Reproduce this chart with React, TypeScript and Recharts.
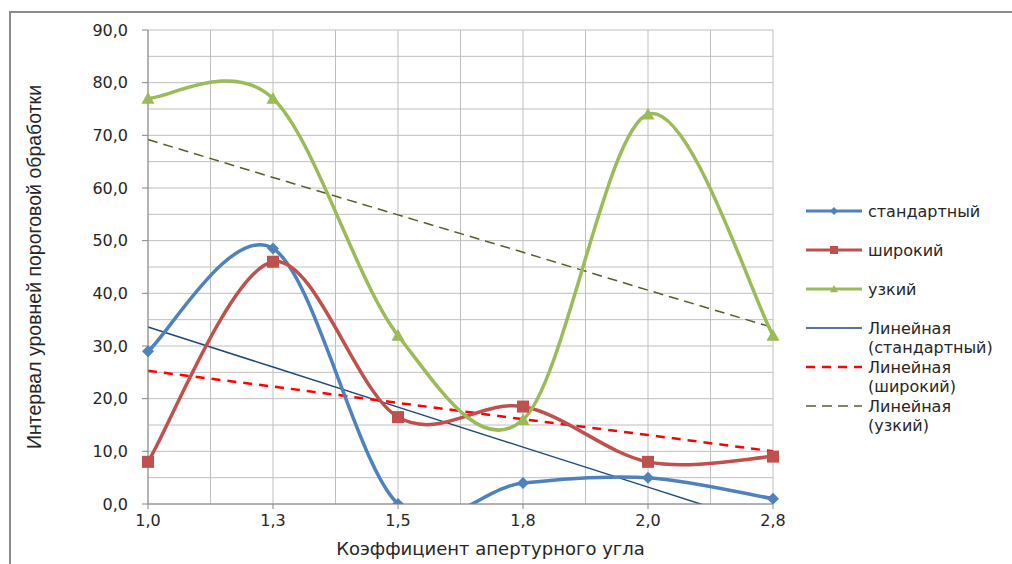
import { LineChart, Line, XAxis, YAxis, CartesianGrid, Legend } from 'recharts';

const categories = ['1,0', '1,3', '1,5', '1,8', '2,0', '2,8'];
const standard = [29, 48.5, 0, 4, 5, 1];
const wide = [8, 46, 16.5, 18.5, 8, 9];
const narrow = [77, 77, 32, 16, 74, 32];
// trendlines (straight lines, so one value per category)
const trendStandard = [33.6, 26.0, 18.4, 10.8, 3.2, -4.4];
const trendWide = [25.3, 22.3, 19.2, 16.1, 13.1, 10.0];
const trendNarrow = [69.2, 62.0, 54.9, 47.8, 40.6, 33.5];
const yTicks = [0, 10, 20, 30, 40, 50, 60, 70, 80, 90];
const yGrid = [0, 5, 10, 15, 20, 25, 30, 35, 40, 45, 50, 55, 60, 65, 70, 75, 80, 85, 90];
const xTicks = [0, 1, 2, 3, 4, 5];
const xGrid = [0, 0.5, 1, 1.5, 2, 2.5, 3, 3.5, 4, 4.5, 5];

const data = categories.map((label, i) => ({
  x: i,
  label,
  standard: standard[i],
  wide: wide[i],
  narrow: narrow[i],
  trendStandard: trendStandard[i],
  trendWide: trendWide[i],
  trendNarrow: trendNarrow[i],
}));

const BLUE = '#4F81BD';
const RED = '#C0504D';
const GREEN = '#9BBB59';
const TEXT = '#262626';
const FONT = '"DejaVu Sans", "Open Sans", sans-serif';

// Excel-like smoothed line: cubic bezier with catmull-rom tangents
const excelSmooth = (context: any) => {
  let pts: number[][] = [];
  return {
    areaStart() {},
    areaEnd() {},
    lineStart() {
      pts = [];
    },
    point(x: number, y: number) {
      pts.push([+x, +y]);
    },
    lineEnd() {
      const n = pts.length;
      if (!n) return;
      context.moveTo(pts[0][0], pts[0][1]);
      for (let i = 0; i < n - 1; i++) {
        const p0 = pts[Math.max(i - 1, 0)];
        const p1 = pts[i];
        const p2 = pts[i + 1];
        const p3 = pts[Math.min(i + 2, n - 1)];
        context.bezierCurveTo(
          p1[0] + (p2[0] - p0[0]) / 6,
          p1[1] + (p2[1] - p0[1]) / 6,
          p2[0] - (p3[0] - p1[0]) / 6,
          p2[1] - (p3[1] - p1[1]) / 6,
          p2[0],
          p2[1]
        );
      }
    },
  };
};

function Marker({ kind, cx, cy, size, color }: { kind: string; cx: number; cy: number; size: number; color: string }) {
  const h = size / 2;
  if (kind === 'diamond') {
    return <polygon points={`${cx},${cy - h} ${cx + h},${cy} ${cx},${cy + h} ${cx - h},${cy}`} fill={color} />;
  }
  if (kind === 'square') {
    return <rect x={cx - h} y={cy - h} width={size} height={size} fill={color} />;
  }
  return <polygon points={`${cx},${cy - h} ${cx + h},${cy + h * 0.8} ${cx - h},${cy + h * 0.8}`} fill={color} />;
}

const dotOf = (kind: string, color: string, size: number) => (props: any) => {
  const { cx, cy, index } = props;
  if (cx == null || cy == null) return <g key={`d-${kind}-${index}`} />;
  return (
    <g key={`d-${kind}-${index}`}>
      <Marker kind={kind} cx={cx} cy={cy} size={size} color={color} />
    </g>
  );
};

const legendItems = [
  { lines: ['стандартный'], color: BLUE, width: 3, dash: undefined, marker: 'diamond' },
  { lines: ['широкий'], color: RED, width: 3, dash: undefined, marker: 'square' },
  { lines: ['узкий'], color: GREEN, width: 3, dash: undefined, marker: 'triangle' },
  { lines: ['Линейная', '(стандартный)'], color: '#1F497D', width: 1.5, dash: undefined, marker: '' },
  { lines: ['Линейная', '(широкий)'], color: '#FF0000', width: 2.5, dash: '9 7', marker: '' },
  { lines: ['Линейная', '(узкий)'], color: '#4F6228', width: 1.5, dash: '10 6', marker: '' },
];

function ChartLegend() {
  return (
    <svg width={210} height={240} style={{ display: 'block' }}>
      {legendItems.map((it, i) => {
        const y = 11 + i * 39;
        return (
          <g key={i}>
            <line x1={6} x2={62} y1={y} y2={y} stroke={it.color} strokeWidth={it.width} strokeDasharray={it.dash} />
            {it.marker && <Marker kind={it.marker} cx={34} cy={y} size={8} color={it.color} />}
            {it.lines.map((t, j) => (
              <text key={j} x={68} y={y + j * 19} dy="0.35em" fontSize={16} fill={TEXT} fontFamily={FONT}>
                {t}
              </text>
            ))}
          </g>
        );
      })}
    </svg>
  );
}

export default function App() {
  return (
    <div style={{ position: 'absolute', left: 0, top: 0, width: 1012, height: 564, background: '#fff' }}>
      <div
        style={{
          position: 'absolute',
          left: 9,
          top: 11,
          right: 0,
          bottom: 0,
          borderTop: '2px solid #8c8c8c',
          borderLeft: '2px solid #8c8c8c',
        }}
      />
      <div style={{ position: 'absolute', left: 0, top: 0 }}>
        <LineChart width={1012} height={564} data={data} margin={{ top: 30, right: 29, bottom: 30, left: 0 }}>
          <CartesianGrid stroke="#bfbfbf" strokeWidth={1} horizontalValues={yGrid} verticalValues={xGrid} />
          <XAxis
            dataKey="x"
            type="number"
            domain={[0, 5]}
            ticks={xTicks}
            interval={0}
            tickFormatter={(v: number) => categories[v]}
            axisLine={{ stroke: '#868686' }}
            tickLine={{ stroke: '#868686' }}
            tickSize={5}
            tickMargin={6}
            height={30}
            tick={{ fill: TEXT, fontSize: 16, fontFamily: FONT }}
            label={{
              value: 'Коэффициент апертурного угла',
              position: 'insideBottom',
              offset: -21,
              dx: 30,
              fill: TEXT,
              fontSize: 18,
              fontFamily: FONT,
            }}
          />
          <YAxis
            domain={[0, 90]}
            ticks={yTicks}
            allowDataOverflow
            width={148}
            interval={0}
            tickFormatter={(v: number) => v.toFixed(1).replace('.', ',')}
            axisLine={{ stroke: '#868686' }}
            tickLine={{ stroke: '#868686' }}
            tickSize={6}
            tickMargin={14}
            tick={{ fill: TEXT, fontSize: 16, fontFamily: FONT }}
            label={{
              value: 'Интервал уровней пороговой обработки',
              angle: -90,
              position: 'insideLeft',
              offset: 34,
              fill: TEXT,
              fontSize: 19.5,
              fontFamily: '"Liberation Sans", Arial, sans-serif',
              style: { textAnchor: 'middle' },
            }}
          />
          <Legend
            layout="vertical"
            align="right"
            verticalAlign="top"
            wrapperStyle={{ left: 800, top: 200, width: 210 }}
            content={() => <ChartLegend />}
          />
          <Line
            dataKey="trendStandard"
            type="linear"
            stroke="#1F497D"
            strokeWidth={1.5}
            dot={false}
            activeDot={false}
            isAnimationActive={false}
          />
          <Line
            dataKey="trendWide"
            type="linear"
            stroke="#FF0000"
            strokeWidth={2.5}
            strokeDasharray="9 7"
            dot={false}
            activeDot={false}
            isAnimationActive={false}
          />
          <Line
            dataKey="trendNarrow"
            type="linear"
            stroke="#4F6228"
            strokeWidth={1.5}
            strokeDasharray="10 6"
            dot={false}
            activeDot={false}
            isAnimationActive={false}
          />
          <Line
            dataKey="standard"
            type={excelSmooth as any}
            stroke={BLUE}
            strokeWidth={3.5}
            dot={dotOf('diamond', BLUE, 12)}
            activeDot={false}
            isAnimationActive={false}
          />
          <Line
            dataKey="wide"
            type={excelSmooth as any}
            stroke={RED}
            strokeWidth={3.5}
            dot={dotOf('square', RED, 12)}
            activeDot={false}
            isAnimationActive={false}
          />
          <Line
            dataKey="narrow"
            type={excelSmooth as any}
            stroke={GREEN}
            strokeWidth={3.5}
            dot={dotOf('triangle', GREEN, 13)}
            activeDot={false}
            isAnimationActive={false}
          />
        </LineChart>
      </div>
    </div>
  );
}
